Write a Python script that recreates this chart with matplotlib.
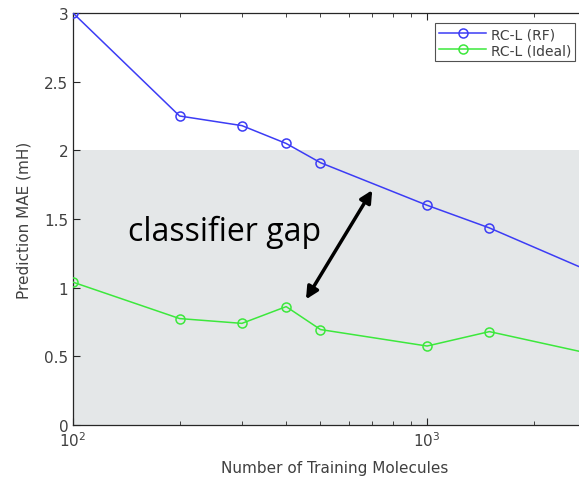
import matplotlib.pyplot as plt
from matplotlib.ticker import FixedLocator, NullFormatter
from matplotlib.patches import Rectangle

# data
n_train = [100, 200, 300, 400, 500, 1000, 1500, 3000]
mae_rf = [3.0, 2.25, 2.18, 2.05, 1.91, 1.60, 1.435, 1.10]
mae_ideal = [1.04, 0.775, 0.74, 0.862, 0.695, 0.575, 0.68, 0.51]
y_ticks = [0, 0.5, 1, 1.5, 2, 2.5, 3]
y_tick_labels = ["0", "0.5", "1", "1.5", "2", "2.5", "3"]

W, H = 579, 481
fig = plt.figure(figsize=(W / 100, H / 100), dpi=100)
ax = fig.add_axes([73 / W, (H - 426) / H, 523 / W, 412 / H])

# shaded region below MAE = 2
ax.add_patch(Rectangle((100, 0), 3000 - 100, 2.0, facecolor="#e4e7e8",
                       edgecolor="none", zorder=0))

ax.plot(n_train, mae_rf, color="#3c3cf5", lw=1.1, marker="o", ms=6.5,
        mfc="none", mew=1.1, label="RC-L (RF)", zorder=3)
ax.plot(n_train, mae_ideal, color="#3ce83c", lw=1.1, marker="o", ms=6.5,
        mfc="none", mew=1.1, label="RC-L (Ideal)", zorder=3)

ax.set_xscale("log")
ax.set_xlim(100, 3000)
ax.set_ylim(0, 3)
ax.set_yticks(y_ticks)
ax.set_yticklabels(y_tick_labels)
ax.xaxis.set_major_locator(FixedLocator([100, 1000]))
ax.xaxis.set_minor_locator(FixedLocator([200, 300, 400, 500, 600, 700, 800, 900, 2000]))
ax.xaxis.set_minor_formatter(NullFormatter())

ax.tick_params(which="both", direction="in", top=True, right=False,
               colors="#262626", labelcolor="#404040", labelsize=11)
ax.tick_params(which="major", length=5, width=0.8)
ax.tick_params(which="minor", length=3, width=0.6)
for s in ax.spines.values():
    s.set_color("#262626")
    s.set_linewidth(0.9)

ax.set_xlabel("Number of Training Molecules", fontsize=11, color="#404040",
              labelpad=8)
ax.set_ylabel("Prediction MAE (mH)", fontsize=11, color="#404040",
              labelpad=9)

# annotation
ax.annotate("", xy=(700, 1.71), xytext=(455, 0.915),
            arrowprops=dict(arrowstyle="<|-|>", color="black", lw=2.5,
                            mutation_scale=18, shrinkA=0, shrinkB=0), zorder=4)
ax.text(143, 1.41, "classifier gap", fontsize=23, family="Open Sans",
        color="black", va="center", ha="left", zorder=4)

leg = ax.legend(loc="upper left", bbox_to_anchor=(435 / W, 1 - 24 / H),
                bbox_transform=fig.transFigure, fontsize=10, frameon=True,
                fancybox=False, borderaxespad=0, handlelength=3.4,
                borderpad=0.3, labelspacing=0.15, handletextpad=0.3)
leg.get_frame().set_edgecolor("#262626")
leg.get_frame().set_linewidth(0.8)
for t in leg.get_texts():
    t.set_color("#404040")

fig.savefig("out.png", dpi=100)
